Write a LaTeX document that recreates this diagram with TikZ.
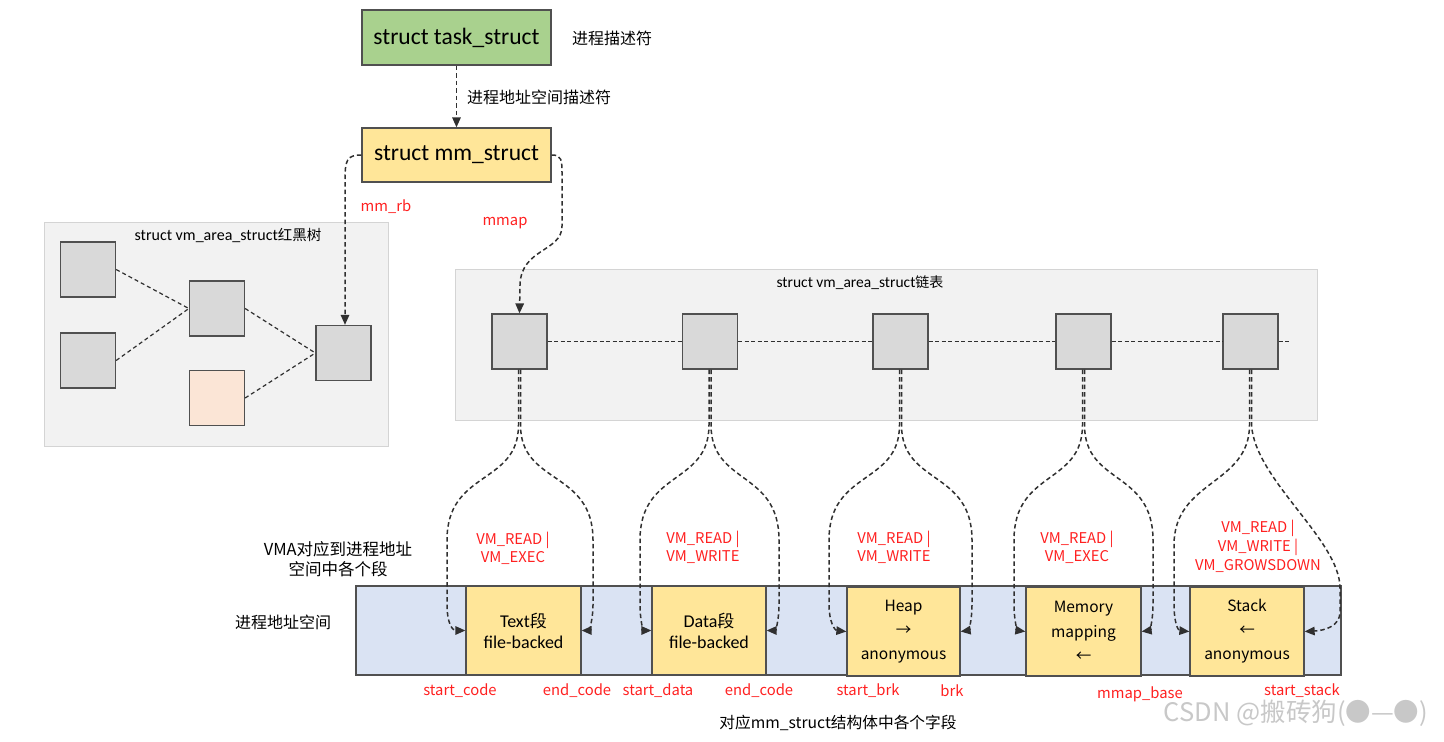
\documentclass[tikz,border=0pt]{standalone}
\usepackage{fontspec}
\setmainfont{Carlito}
\newfontfamily\cjk{Noto Sans CJK SC}
\usetikzlibrary{arrows.meta}
\definecolor{taskgreen}{HTML}{A9D18E}
\definecolor{mmyellow}{HTML}{FFE699}
\definecolor{boxgray}{HTML}{D9D9D9}
\definecolor{boxline}{HTML}{505050}
\definecolor{contfill}{HTML}{F2F2F2}
\definecolor{contline}{HTML}{D4D4D4}
\definecolor{peach}{HTML}{FBE5D6}
\definecolor{barblue}{HTML}{DAE3F3}
\definecolor{redtxt}{HTML}{FF2020}
\definecolor{wm}{HTML}{C8C8C8}
\definecolor{dline}{HTML}{303030}
\newcommand\fsz[1]{\fontsize{#1}{#1}\selectfont}
\begin{document}
\begin{tikzpicture}[x=1pt,y=-1pt,
  box/.style={draw=boxline, line width=1.3pt, inner sep=0pt},
  gbox/.style={box, fill=boxgray, minimum width=55pt, minimum height=55pt},
  cont/.style={draw=contline, fill=contfill, line width=0.8pt, inner sep=0pt},
  seg/.style={box, fill=mmyellow, minimum height=89pt, align=center},
  dsh/.style={draw=dline, dash pattern=on 4.5pt off 3pt, line width=1.5pt},
  ldsh/.style={draw=dline, dash pattern=on 4pt off 2.5pt, line width=1.4pt},
  tdsh/.style={draw=dline, dash pattern=on 4pt off 3pt, line width=1.2pt},
  arr/.style={-{Triangle[length=10pt,width=8.5pt]}},
  redl/.style={text=redtxt, font=\cjk\fsz{14.8}, align=center, inner sep=0pt},
  cjkl/.style={font=\cjk\fsz{16}, align=center, inner sep=0pt},
  ttl/.style={font=\fsz{16}, inner sep=0pt}
]
\useasboundingbox (0,0) rectangle (1444,742);

% top structs
\node[box, fill=taskgreen, minimum width=189pt, minimum height=55pt, font=\fsz{23.5}] (task) at (456.5,37.5) {struct task\_struct};
\node[box, fill=mmyellow, minimum width=189pt, minimum height=54pt, font=\fsz{23.5}] (mm) at (456.5,155) {struct mm\_struct};
\node[cjkl, anchor=west] (taskdesc) at (572,38) {进程描述符};
\node[cjkl, anchor=west] (mmdesc) at (467,97) {进程地址空间描述符};
\node[redl] (mmrb) at (386,207) {mm\_rb};
\node[redl] (mmaplbl) at (505,223) {mmap};

% red-black tree container
\node[cont, minimum width=344pt, minimum height=224pt] (tree) at (216,334) {};
\node[ttl] (treettl) at (228,235) {struct vm\_area\_struct{\cjk\fsz{14.5}红黑树}};
\node[gbox] (ta) at (88,269.5) {};
\node[gbox] (tb) at (88,360.5) {};
\node[gbox] (tc) at (217,308.5) {};
\node[gbox, fill=peach] (td) at (217,398) {};
\node[gbox] (troot) at (343.5,353) {};
\draw[tdsh] (ta.east) -- (tc.west);
\draw[tdsh] (tb.east) -- (tc.west);
\draw[tdsh] (tc.east) -- (troot.west);
\draw[tdsh] (td.east) -- (troot.west);

% list container
\node[cont, minimum width=862pt, minimum height=151pt] (list) at (886,344.5) {};
\node[ttl, font=\fsz{15.5}] (listttl) at (860,283) {struct vm\_area\_struct{\cjk\fsz{14}链表}};
\node[gbox] (l1) at (519.5,341.5) {};
\node[gbox] (l2) at (710,341.5) {};
\node[gbox] (l3) at (900.5,341.5) {};
\node[gbox] (l4) at (1083.5,341.5) {};
\node[gbox] (l5) at (1250.5,341.5) {};
\coordinate (lend) at (1289,341.5);
\draw[ldsh] (l1.east) -- (l2.west);
\draw[ldsh] (l2.east) -- (l3.west);
\draw[ldsh] (l3.east) -- (l4.west);
\draw[ldsh] (l4.east) -- (l5.west);
\draw[ldsh] (l5.east) -- (lend);

% mm_struct connectors
\draw[dsh, arr] (task.south) -- (mm.north);
\draw[dsh, arr] (mm.west) .. controls (347,155) and (345,160) .. (345,180) -- (troot.north -| 345,0);
\draw[dsh, arr] (mm.east) .. controls (562,155) and (562,160) .. (562,175) -- (562,226) .. controls (562,252) and (521,248) .. (520,285) -- (l1.north);

% address space bar
\node[box, fill=barblue, minimum width=985pt, minimum height=89pt] (bar) at (848.5,630.5) {};
\node[seg, minimum width=115pt, font=\fsz{18}] (stext) at (523.5,630.5) {\rule{0pt}{15pt}Text{\cjk\fsz{17}段}\\[3pt]file-backed};
\node[seg, minimum width=114pt, font=\fsz{18}] (sdata) at (709,630.5) {\rule{0pt}{15pt}Data{\cjk\fsz{17}段}\\[3pt]file-backed};
\node[seg, minimum width=113pt, font=\cjk\fsz{15.5}] (sheap) at (903.5,631.5) {Heap\\[8.5pt]→\\[8.5pt]anonymous};
\node[seg, minimum width=115pt, font=\cjk\fsz{15.5}] (smem) at (1083.5,631.5) {Memory\\[8.5pt]mapping\\[8.5pt]←};
\node[seg, minimum width=114pt, font=\cjk\fsz{15.5}] (sstack) at (1247,631.5) {Stack\\[8.5pt]←\\[8.5pt]anonymous};

% list -> segment connectors
\draw[dsh, arr] ([xshift=-1pt]l1.south) -- (518.5,425) .. controls (518.5,485) and (447,470) .. (447,540) -- (447,605) .. controls (447,622) and (452,630.5) .. (stext.west);
\draw[dsh, arr] ([xshift=1pt]l1.south) -- (520.5,425) .. controls (520.5,485) and (593,470) .. (593,540) -- (593,605) .. controls (593,622) and (588,630.5) .. (stext.east);
\draw[dsh, arr] ([xshift=-1pt]l2.south) -- (709,425) .. controls (709,485) and (640,470) .. (640,540) -- (640,605) .. controls (640,622) and (644,630.5) .. (sdata.west);
\draw[dsh, arr] ([xshift=1pt]l2.south) -- (711,425) .. controls (711,485) and (779,470) .. (779,540) -- (779,605) .. controls (779,622) and (775,630.5) .. (sdata.east);
\draw[dsh, arr] ([xshift=-1pt]l3.south) -- (899.5,425) .. controls (899.5,485) and (829,470) .. (829,540) -- (829,605) .. controls (829,622) and (835,630.5) .. (sheap.west);
\draw[dsh, arr] ([xshift=1pt]l3.south) -- (901.5,425) .. controls (901.5,485) and (972,470) .. (972,540) -- (972,605) .. controls (972,622) and (968,630.5) .. (sheap.east);
\draw[dsh, arr] ([xshift=-1pt]l4.south) -- (1082.5,425) .. controls (1082.5,485) and (1014,470) .. (1014,540) -- (1014,605) .. controls (1014,622) and (1018,630.5) .. (smem.west);
\draw[dsh, arr] ([xshift=1pt]l4.south) -- (1084.5,425) .. controls (1084.5,485) and (1153,470) .. (1153,540) -- (1153,605) .. controls (1153,622) and (1149,630.5) .. (smem.east);
\draw[dsh, arr] ([xshift=-1pt]l5.south) -- (1249.5,425) .. controls (1249.5,485) and (1174,480) .. (1174,545) -- (1174,605) .. controls (1174,622) and (1178,630.5) .. (sstack.west);
\draw[dsh, arr] ([xshift=1pt]l5.south) -- (1251.5,425) .. controls (1255,480) and (1340,540) .. (1340,588) -- (1340,612) .. controls (1340,626) and (1325,630.5) .. (sstack.east);

% flag labels
\node[redl] (f1) at (513,548) {VM\_READ |\\[2pt]VM\_EXEC};
\node[redl] (f2) at (703,547) {VM\_READ |\\[2pt]VM\_WRITE};
\node[redl] (f3) at (894,547) {VM\_READ |\\[2pt]VM\_WRITE};
\node[redl] (f4) at (1077,547) {VM\_READ |\\[2pt]VM\_EXEC};
\node[redl] (f5) at (1258,546) {VM\_READ |\\[2pt]VM\_WRITE |\\[2pt]VM\_GROWSDOWN};

% left labels
\node[cjkl, font=\cjk\fsz{16.5}] (vmalbl) at (338,559) {VMA对应到进程地址\\[4pt]空间中各个段};
\node[cjkl] (aslbl) at (283,622) {进程地址空间};

% field labels
\node[redl] (b1) at (460,691) {start\_code};
\node[redl] (b2) at (577,691) {end\_code};
\node[redl] (b3) at (658,691) {start\_data};
\node[redl] (b4) at (759,691) {end\_code};
\node[redl] (b5) at (868,691) {start\_brk};
\node[redl] (b6) at (952,691) {brk};
\node[redl] (b7) at (1140,694) {mmap\_base};
\node[redl] (b8) at (1302,691) {start\_stack};
\node[cjkl, font=\cjk\fsz{15.7}] (caption) at (838,723) {对应mm\_struct结构体中各个字段};

% watermark
\node[font=\cjk\fsz{25.5}, text=wm, inner sep=0pt] (wmark) at (1296,713) {CSDN @搬砖狗(●—●)};
\end{tikzpicture}
\end{document}
